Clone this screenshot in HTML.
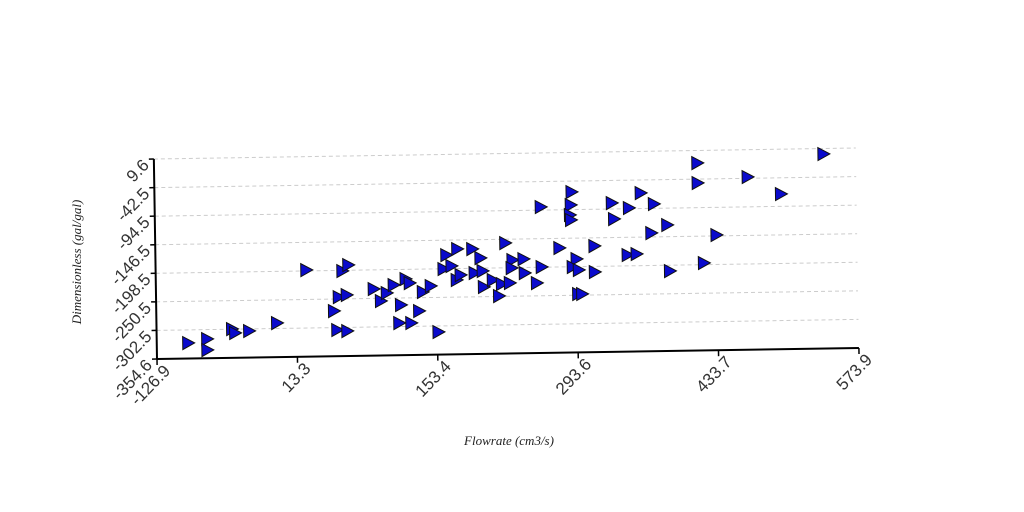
<!DOCTYPE html>
<html><head><meta charset="utf-8"><style>
body{margin:0;background:#fff;width:1024px;height:512px;overflow:hidden}
svg{display:block}
.sans{font-family:"Liberation Sans",sans-serif}
.serif{font-family:"Liberation Serif",serif;font-style:italic}
</style></head><body>
<svg id="chart" width="1024" height="512" viewBox="0 0 1024 512" xmlns="http://www.w3.org/2000/svg">
<g id="plot" transform="rotate(-0.9 157 359)"></g>
<text class="serif" x="0" y="0" transform="translate(81 262) rotate(-90)" text-anchor="middle" font-size="13" fill="#222">Dimensionless (gal/gal)</text>
<text class="serif" x="509" y="445" text-anchor="middle" font-size="13" fill="#222">Flowrate (cm3/s)</text>
</svg>
<script>
const xTicks=[-126.9,13.3,153.4,293.6,433.7,573.9];
const yTicks=[9.6,-42.5,-94.5,-146.5,-198.5,-250.5,-302.5,-354.6];
const xVals=[-96,-77,-77,-52,-49,-35,-7,23,50,53,63,55,63,59,65,90,97,103,110,117,115,127,135,122,126,139,147,154,160,163,168,174,173,177,189,197,191,199,200,209,215,218,222,229,228,240,241,226,258,258,253,276,289,288,287,288,293,289,295,294,298,311,311,329,331,346,358,371,344,353,368,384,386,415,415,420,433,465,498,541];
const yVals=[-326.4,-319.6,-339.7,-302.2,-309.4,-306.2,-292.5,-196.9,-272.3,-306.9,-309.1,-247.0,-243.5,-199.6,-188.9,-233.3,-255.4,-241.0,-226.6,-263.2,-296.0,-296.3,-274.7,-216.0,-223.5,-240.2,-229.5,-313.4,-198.9,-173.6,-193.6,-162.8,-219.3,-210.4,-163.4,-180.0,-207.1,-203.6,-232.8,-220.4,-249.7,-227.9,-153.4,-184.5,-199.1,-183.1,-208.6,-226.2,-88.7,-198.0,-227.1,-163.9,-62.3,-86.0,-104.2,-113.3,-184.5,-198.9,-204.5,-248.3,-248.4,-161.4,-208.7,-83.6,-112.8,-93.1,-66.2,-86.5,-178.7,-177.1,-139.4,-125.2,-209.1,-13.2,-49.6,-195.4,-144.8,-40.1,-72.0,-0.4];

const X0=157,X1=859,Y0=359,Y1=159;
const xMin=xTicks[0],xMax=xTicks[xTicks.length-1];
const yMin=yTicks[yTicks.length-1],yMax=yTicks[0];
function sx(v){return X0+(v-xMin)/(xMax-xMin)*(X1-X0);}
function sy(v){return Y0-(v-yMin)/(yMax-yMin)*(Y0-Y1);}
const NS="http://www.w3.org/2000/svg";
const g=document.getElementById('plot');
function mk(t,a){const e=document.createElementNS(NS,t);for(const k in a)e.setAttribute(k,a[k]);g.appendChild(e);return e;}

yTicks.forEach((v,i)=>{
  const y=sy(v);
  if(i<yTicks.length-1){
    const l=mk('line',{x1:X0,x2:X1,y1:y,y2:y,stroke:'#ccc','stroke-dasharray':'4 3','stroke-width':1});
    
    
  }
  const tk=mk('line',{x1:X0-5,x2:X0,y1:y,y2:y,stroke:'#000','stroke-width':1.5});
  
  
  const t=mk('text',{class:'sans',x:0,y:0,transform:`translate(${X0-4} ${y+7}) rotate(-45)`,'text-anchor':'end','font-size':17,fill:'#333'});
  t.textContent=v.toFixed(1);
  
  
});
xTicks.forEach(v=>{
  const x=sx(v);
  const tk=mk('line',{x1:x,x2:x,y1:Y0,y2:Y0+6,stroke:'#000','stroke-width':1.5});
  
  
  const t=mk('text',{class:'sans',x:0,y:0,transform:`translate(${x+14} ${Y0+13}) rotate(-45)`,'text-anchor':'end','font-size':17,fill:'#333'});
  t.textContent=v.toFixed(1);
  
  
});
const ya=mk('line',{x1:X0,x2:X0,y1:Y1,y2:Y0,stroke:'#000','stroke-width':2});


const xa=mk('line',{x1:X0,x2:X1,y1:Y0,y2:Y0,stroke:'#000','stroke-width':2});



xVals.forEach((v,i)=>{
  const cx=sx(v),cy=sy(yVals[i]);
  const p=mk('polygon',{points:`${cx-5},${cy-6.5} ${cx+7},${cy} ${cx-5},${cy+6.5}`,fill:'#0a0acc',stroke:'#111','stroke-width':1});
  
  
});
</script>
</body></html>
